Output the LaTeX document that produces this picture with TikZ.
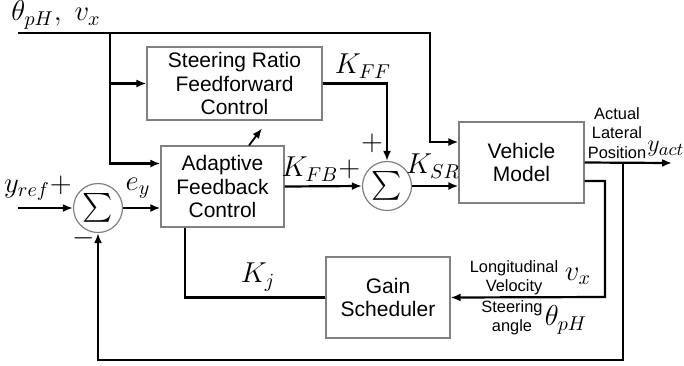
\documentclass[tikz,border=0pt]{standalone}
\usepackage{fontspec}
\setmainfont{Liberation Sans}
\usepackage{tikz}
\usetikzlibrary{arrows.meta, calc}
\usepackage{amsmath}

\tikzset{
  blockbox/.style={draw=gray, line width=0.6pt, rectangle, align=center,
    font=\fontsize{10.5}{11.8}\selectfont, inner sep=0pt},
  sumnode/.style={draw=gray, line width=0.6pt, circle, minimum size=24.5pt,
    inner sep=0pt, font=\fontsize{14}{16}\selectfont},
  wire/.style={line width=1.1pt},
  arr/.style={wire, -{Latex[length=5pt,width=4pt]}},
  mlbl/.style={font=\fontsize{14.5}{16}\selectfont, inner sep=0pt},
  smalltxt/.style={font=\fontsize{8.2}{9.6}\selectfont, align=center, inner sep=0pt}
}

\begin{document}
\begin{tikzpicture}[x=0.5pt, y=-0.5pt]
\useasboundingbox (0,0) rectangle (684,365);

% blocks
\node[blockbox, minimum width=87.5pt, minimum height=36.5pt] (sr) at (234.5,83.5)
  {Steering Ratio\\Feedforward\\Control};
\node[blockbox, minimum width=61.5pt, minimum height=40.5pt] (afc) at (222.5,186.5)
  {Adaptive\\Feedback\\Control};
\node[blockbox, minimum width=62.5pt, minimum height=40.5pt] (vm) at (521.5,162.5)
  {Vehicle\\Model};
\node[blockbox, minimum width=62pt, minimum height=40.5pt] (gs) at (388,297.5)
  {Gain\\Scheduler};

\foreach \nm/\px/\py in {s1/98/208, s2/387/186}
  \node[sumnode] (\nm) at (\px,\py) {$\sum$};

\coordinate (thetav) at (18,33);
\coordinate (tap) at (110,33);
\coordinate (yref) at (18,208);
\coordinate (yact) at (672,163);
\coordinate (junc) at (623,163);

% signal lines
\draw[arr] (thetav) -- (430,33) |- ([yshift=10.25pt]vm.west);
\draw[arr] (tap) |- (sr.west);
\draw[arr] (tap) |- ([yshift=11.5pt]afc.west);
\draw[arr] (yref) -- (s1.west);
\draw[arr] (s1.east) -- (s1.east -| afc.west);
\draw[arr] (afc.east) -- (s2.west);
\draw[arr] (sr.east) -| (s2.north);
\draw[arr] (s2.east) -- (s2.east -| vm.west);
\draw[arr] (vm.east) -- (yact);
\draw[arr] (junc) -- (623,360) -| (s1.south);
\draw[arr] ([yshift=-9.25pt]vm.east) -| (605,297) -- (gs.east);
\draw[wire] (gs.west) -| ([xshift=-18.75pt]afc.south);
\draw[arr, line width=0.9pt] ([xshift=13.25pt]afc.north) -- ++(13,-17);

% labels
\node[mlbl] (thetavlbl) at (56,15) {$\theta_{pH},\ v_x$};
\node[mlbl] (yreflbl) at (38,188) {$y_{ref}+$};
\node[mlbl] (minuslbl) at (84,238) {$-$};
\node[mlbl] (eylbl) at (138,188) {$e_y$};
\node[mlbl] (kfblbl) at (321,169) {$K_{FB}+$};
\node[mlbl] (pluslbl) at (372,143) {$+$};
\node[mlbl] (kfflbl) at (363,66) {$K_{FF}$};
\node[mlbl] (ksrlbl) at (433,166) {$K_{SR}$};
\node[mlbl] (kjlbl) at (258,277) {$K_j$};
\node[smalltxt] (actlbl) at (617,133) {Actual\\Lateral\\Position};
\node[mlbl, font=\fontsize{12.5}{14}\selectfont, anchor=west] (yactlbl)
  at (647,149) {$y_{act}$};
\node[smalltxt] (vellbl) at (514,278) {Longitudinal\\Velocity};
\node[mlbl] (vxlbl) at (578,276) {$v_x$};
\node[smalltxt] (anglbl) at (512,318) {Steering\\angle};
\node[mlbl] (thlbl) at (566,320) {$\theta_{pH}$};
\end{tikzpicture}
\end{document}
